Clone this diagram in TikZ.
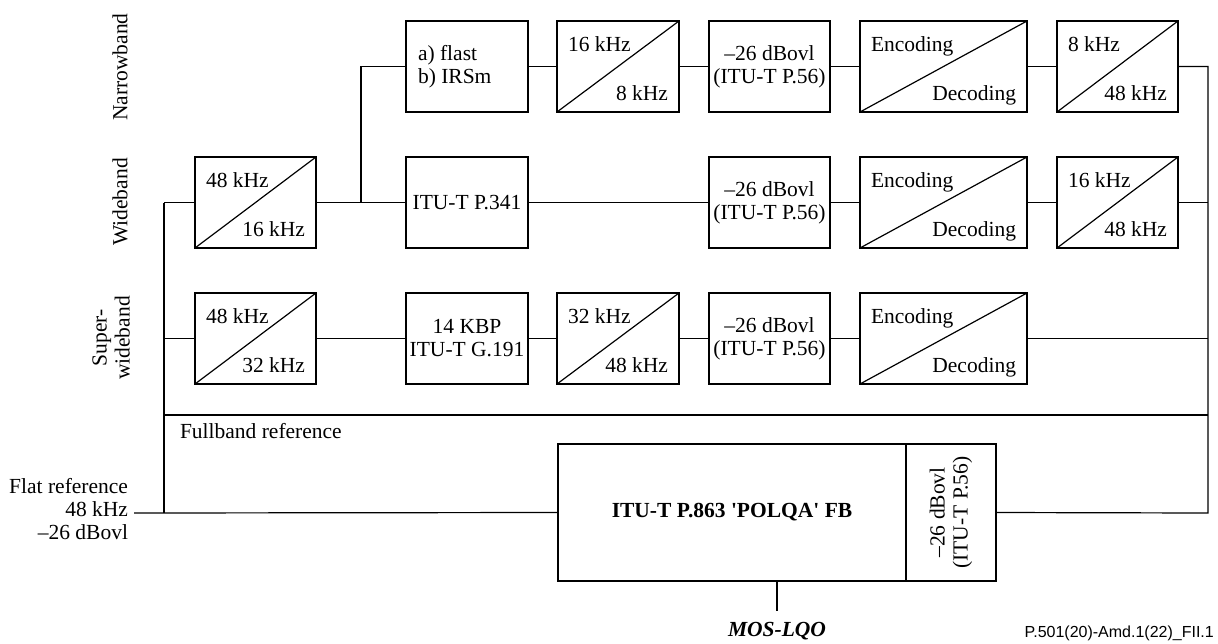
\documentclass[tikz,border=0pt]{standalone}
\usepackage{fontspec}
\setmainfont{Liberation Serif}
\newfontfamily\footfont{Liberation Sans}
\begin{document}
\begin{tikzpicture}[x=1pt,y=-1pt,
  blk/.style={draw, line width=1.2pt, minimum height=91, inner sep=0, outer sep=0},
  wire/.style={line width=1.2pt},
  txt/.style={inner sep=0, outer sep=0, font=\fontsize{21.5}{23}\selectfont},
  lbl/.style={txt, align=center, rotate=90},
]
\useasboundingbox (0,0) rectangle (1218,643);
\newcommand\dbox[6]{%
  \node[blk, minimum width=#4] (#1) at (#2,#3) {};
  \draw[wire] (#1.south west) -- (#1.north east);
  \node[txt, anchor=base west] (#1u) at ([shift={(11,30)}]#1.north west) {#5};
  \node[txt, anchor=base east] (#1l) at ([shift={(-11,-12)}]#1.south east) {#6};}
\newcommand\tbox[5]{%
  \node[blk, minimum width=#4, txt, align=center, draw, line width=1.2pt, minimum height=91] (#1) at (#2,#3) {#5};}

% side labels
\node[lbl] (lnb) at (120,67) {Narrowband};
\node[lbl] (lwb) at (120,202) {Wideband};
\node[lbl] (lsw) at (111,338) {Super-\\wideband};

% narrowband row
\node[blk, minimum width=122] (nb1) at (467,66.5) {};
\node[txt, align=left, anchor=west] (nb1t) at (418,66.5) {a) flast\\b) IRSm};
\dbox{nb2}{618}{66.5}{122}{16 kHz}{8 kHz}
\tbox{nb3}{769.5}{66.5}{121}{--26 dBovl\\(ITU-T P.56)}
\dbox{nb4}{943.5}{66.5}{167}{Encoding}{Decoding}
\dbox{nb5}{1117.5}{66.5}{121}{8 kHz}{48 kHz}

% wideband row
\dbox{wb0}{255.5}{202.5}{121}{48 kHz}{16 kHz}
\tbox{wb1}{467}{202.5}{122}{ITU-T P.341}
\tbox{wb3}{769.5}{202.5}{121}{--26 dBovl\\(ITU-T P.56)}
\dbox{wb4}{943.5}{202.5}{167}{Encoding}{Decoding}
\dbox{wb5}{1117.5}{202.5}{121}{16 kHz}{48 kHz}

% super-wideband row
\dbox{sw0}{255.5}{338.5}{121}{48 kHz}{32 kHz}
\tbox{sw1}{467}{338.5}{122}{14 KBP\\ITU-T G.191}
\dbox{sw2}{618}{338.5}{122}{32 kHz}{48 kHz}
\tbox{sw3}{769.5}{338.5}{121}{--26 dBovl\\(ITU-T P.56)}
\dbox{sw4}{943.5}{338.5}{167}{Encoding}{Decoding}

% POLQA
\node[blk, minimum width=348, minimum height=137, txt, font=\fontsize{21.5}{23}\selectfont\bfseries] (polqa) at (732,512.5) {ITU-T P.863 \textquotesingle POLQA\textquotesingle{} FB};
\node[blk, minimum width=90, minimum height=137] (lev) at (951,512.5) {};
\node[lbl] (levt) at (951,512.5) {--26 dBovl\\(ITU-T P.56)};

% junction coordinates
\coordinate (inL) at (134,513);
\coordinate (vL) at (164,513);
\coordinate (jW) at (164,202.5);
\coordinate (jS) at (164,338.5);
\coordinate (jN) at (361,202.5);
\coordinate (fbL) at (164,415);
\coordinate (fbR) at (1208,415);
\coordinate (rN) at (1208,66.5);
\coordinate (rW) at (1208,202.5);
\coordinate (rS) at (1208,338.5);
\coordinate (rB) at (1208,513);
\coordinate (mosE) at (777,611);
\coordinate (mosS) at (777,581);

% wires
\draw[wire] (jW) -- (vL);
\draw[wire] (jW) -- (wb0.west);
\draw[wire] (jS) -- (sw0.west);
\draw[wire] (wb0.east) -- (wb1.west);
\draw[wire] (jN) |- (nb1.west);
\draw[wire] (nb1) -- (nb2);
\draw[wire] (nb2) -- (nb3);
\draw[wire] (nb3) -- (nb4);
\draw[wire] (nb4) -- (nb5);
\draw[wire] (nb5.east) -- (rN) -- (rB) -- (lev.east);
\draw[wire] (wb1) -- (wb3);
\draw[wire] (wb3) -- (wb4);
\draw[wire] (wb4) -- (wb5);
\draw[wire] (wb5.east) -- (rW);
\draw[wire] (sw0) -- (sw1);
\draw[wire] (sw1) -- (sw2);
\draw[wire] (sw2) -- (sw3);
\draw[wire] (sw3) -- (sw4);
\draw[wire] (sw4.east) -- (rS);
\draw[wire] (fbL) -- (fbR);
\draw[wire] (inL) -- (polqa.west);
\draw[wire] (mosS) -- (mosE);

% texts
\node[txt, anchor=west] (fbt) at (180,431) {Fullband reference};
\node[txt, align=right, anchor=east] (flat) at (128,509) {Flat reference\\48 kHz\\--26 dBovl};
\node[txt, font=\fontsize{21.5}{23}\selectfont\bfseries\itshape] (mos) at (777,631) {MOS-LQO};
\node[inner sep=0, anchor=east, font=\footfont\fontsize{16}{18}\selectfont] (foot) at (1214,633) {P.501(20)-Amd.1(22)\_FII.1};
\end{tikzpicture}
\end{document}
